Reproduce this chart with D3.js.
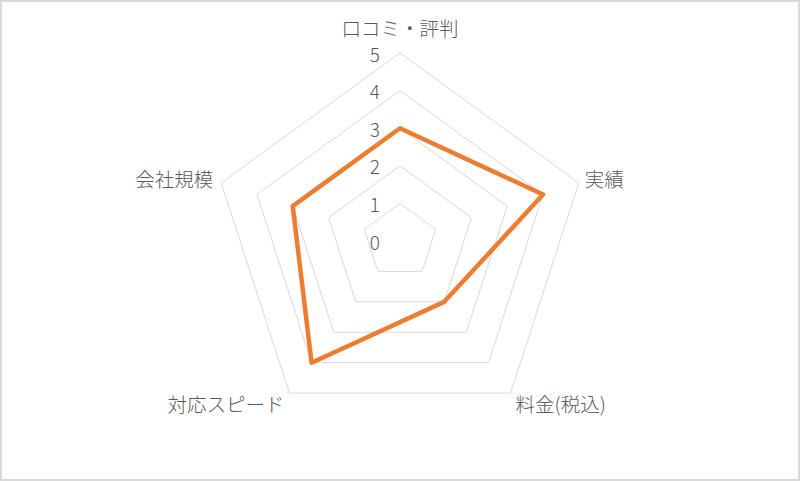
<!DOCTYPE html>
<html>
<head>
<meta charset="utf-8">
<script src="https://cdn.jsdelivr.net/npm/d3@7"></script>
<style>
  body { margin: 0; background: #fff; }
  text { font-family: "Noto Sans CJK JP", "Noto Sans", sans-serif; fill: #595959; font-weight: 300; }
</style>
</head>
<body>
<div id="container"></div>
<script>
const categories = ["口コミ・評判", "実績", "料金(税込)", "対応スピード", "会社規模"];
const values = [3, 4, 2, 4, 3];
const ticks = [0, 1, 2, 3, 4, 5];

const w = 800;
const h = 481;
const cx = 400;
const cy = 241;
const R = 188;

const svg = d3
  .select("#container")
  .append("svg")
  .attr("width", w)
  .attr("height", h);

svg
  .append("rect")
  .attr("x", 1)
  .attr("y", 1)
  .attr("width", w - 2)
  .attr("height", h - 2)
  .attr("fill", "#fff")
  .attr("stroke", "#d9d9d9")
  .attr("stroke-width", 2);

const g = svg.append("g").attr("transform", `translate(${cx},${cy})`);

const rScale = d3.scaleLinear().domain([0, d3.max(ticks)]).range([0, R]);
const angle = d3
  .scaleLinear()
  .domain([0, categories.length])
  .range([0, 2 * Math.PI]);

const point = (i, v) => [
  Math.sin(angle(i)) * rScale(v),
  -Math.cos(angle(i)) * rScale(v),
];

// grid pentagons
g.selectAll(".grid")
  .data(ticks.filter((t) => t > 0))
  .join("path")
  .attr("class", "grid")
  .attr("fill", "none")
  .attr("stroke", "#d9d9d9")
  .attr("stroke-width", 1)
  .attr("d", (t) => d3.line()(categories.map((c, i) => point(i, t))) + "Z");

// tick labels
g.selectAll(".tick")
  .data(ticks)
  .join("text")
  .attr("class", "tick")
  .attr("x", -20)
  .attr("y", (t) => -rScale(t))
  .attr("text-anchor", "end")
  .attr("dominant-baseline", "central")
  .attr("font-size", 19)
  .text((t) => t);

// series
g.append("path")
  .datum(values)
  .attr("fill", "none")
  .attr("stroke", "#ed7d31")
  .attr("stroke-width", 4.5)
  .attr("stroke-linejoin", "round")
  .attr("d", (d) => d3.line()(d.map((v, i) => point(i, v))) + "Z");

// category labels
const labelPos = [
  { dx: 0, dy: -26, anchor: "middle" },
  { dx: 6, dy: -4, anchor: "start" },
  { dx: 5, dy: 10, anchor: "start" },
  { dx: -5, dy: 10, anchor: "end" },
  { dx: -8, dy: -4, anchor: "end" },
];

g.selectAll(".label")
  .data(categories)
  .join("text")
  .attr("class", "label")
  .attr("x", (c, i) => point(i, 5)[0] + labelPos[i].dx)
  .attr("y", (c, i) => point(i, 5)[1] + labelPos[i].dy)
  .attr("text-anchor", (c, i) => labelPos[i].anchor)
  .attr("dominant-baseline", "central")
  .attr("font-size", 19.5)
  .text((c) => c);
</script>
</body>
</html>
